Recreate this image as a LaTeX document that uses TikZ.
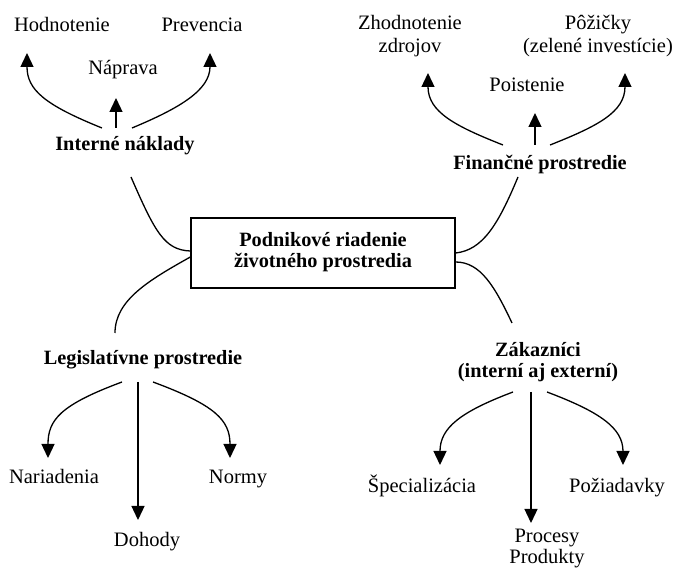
\documentclass[tikz,border=0pt]{standalone}
\usepackage{fontspec}
\setmainfont{Liberation Serif}
\usetikzlibrary{arrows.meta,calc}
\begin{document}
\begin{tikzpicture}[x=1pt,y=-1pt,
  lbl/.style={font=\fontsize{20.5}{22}\selectfont, inner sep=0pt, anchor=base},
  blbl/.style={lbl, font=\fontsize{20.3}{20}\selectfont\bfseries},
  conn/.style={line width=1.3pt},
  arr/.style={conn, -{Triangle[length=14pt,width=13pt]}}]
\useasboundingbox (0,0) rectangle (673,569);
% nodes
\node[lbl] (hod) at (62,32) {Hodnotenie};
\node[lbl] (nap) at (123,75) {Náprava};
\node[lbl] (pre) at (202,32) {Prevencia};
\node[blbl] (in) at (125,151) {Interné náklady};
\node[lbl, font=\fontsize{20.5}{23}\selectfont] (zh) at (410,30) {\begin{tabular}[t]{@{}c@{}}Zhodnotenie\\zdrojov\end{tabular}};
\node[lbl] (poi) at (527,92) {Poistenie};
\node[lbl, font=\fontsize{20.5}{23}\selectfont] (poz) at (598,30) {\begin{tabular}[t]{@{}c@{}}Pôžičky\\(zelené investície)\end{tabular}};
\node[blbl] (fin) at (540,170) {Finančné prostredie};
\node[draw, line width=1.3pt, minimum width=264pt, minimum height=70pt, inner sep=0pt,
      font=\fontsize{20.3}{20}\selectfont\bfseries] (box) at (323,253)
      {\begin{tabular}{@{}c@{}}Podnikové riadenie\\životného prostredia\end{tabular}};
\node[blbl] (leg) at (143,365) {Legislatívne prostredie};
\node[lbl] (nar) at (54,484) {Nariadenia};
\node[lbl] (doh) at (147,547) {Dohody};
\node[lbl] (nor) at (238,484) {Normy};
\node[blbl] (zak) at (538,357) {\begin{tabular}[t]{@{}c@{}}Zákazníci\\(interní aj externí)\end{tabular}};
\node[lbl] (spe) at (422,493) {Špecializácia};
\node[lbl] (pozd) at (617,493) {Požiadavky};
\node[lbl, font=\fontsize{20.5}{20}\selectfont] (pro) at (547,543) {\begin{tabular}[t]{@{}c@{}}Procesy\\Produkty\end{tabular}};
% Interné náklady
\draw[arr] ($(in.base)+(-23,-23)$) .. controls +(-57,-23) and +(0,37) .. ($(hod.base)+(-35,21)$);
\draw[arr] ($(in.base)+(-9,-23)$) -- ($(nap.base)+(-7,23)$);
\draw[arr] ($(in.base)+(7,-23)$) .. controls +(48,-20) and +(0,37) .. ($(pre.base)+(8,21)$);
\draw[conn] ($(in.base)+(6,26)$) .. controls +(24,55) and +(-26,-1) .. ($(box.west)+(0,-2)$);
% Legislativne
\draw[conn] ($(box.west)+(0,4)$) .. controls +(-41,23) and +(0,-33) .. ($(leg.base)+(-28,-32)$);
\draw[arr] ($(leg.base)+(-21,17)$) .. controls +(-62,23) and +(0,-38) .. ($(nar.base)+(-6,-26)$);
\draw[arr] ($(leg.base)+(-5,17)$) -- ($(doh.base)+(-9,-27)$);
\draw[arr] ($(leg.base)+(10,17)$) .. controls +(62,23) and +(0,-38) .. ($(nor.base)+(-8,-26)$);
% Financne
\draw[conn] (box.east) .. controls +(27,-3) and +(-20,48) .. ($(fin.base)+(-22,7)$);
\draw[arr] ($(fin.base)+(-37,-25)$) .. controls +(-48,-19) and +(0,39) .. ($(zh.base)+(18,43)$);
\draw[arr] ($(fin.base)+(-5,-25)$) -- ($(poi.base)+(8,21)$);
\draw[arr] ($(fin.base)+(10,-25)$) .. controls +(48,-19) and +(0,39) .. ($(poz.base)+(27,43)$);
% Zakaznici
\draw[conn] ($(box.east)+(0,9)$) .. controls +(25,0) and +(-17,-36) .. ($(zak.base)+(-26,-34)$);
\draw[arr] ($(zak.base)+(-25,35)$) .. controls +(-53,20) and +(0,-37) .. ($(spe.base)+(18,-28)$);
\draw[arr] ($(zak.base)+(-7,35)$) -- ($(pro.base)+(-16,-20)$);
\draw[arr] ($(zak.base)+(9,35)$) .. controls +(53,20) and +(0,-37) .. ($(pozd.base)+(6,-28)$);
\end{tikzpicture}
\end{document}
